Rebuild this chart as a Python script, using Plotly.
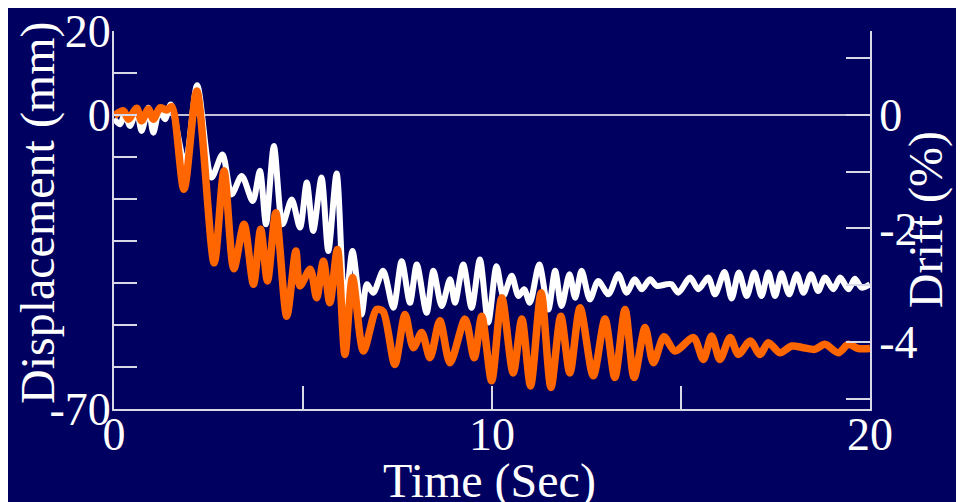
import plotly.graph_objects as go

# Time (s) and displacement (mm)
t_white = [0.0,0.16,0.29,0.42,0.6,0.73,0.91,1.04,1.2,1.35,
           1.5,1.88,2.2,2.58,2.87,3.11,3.38,3.67,3.86,4.02,
           4.23,4.46,4.70,4.92,5.10,5.27,5.49,5.67,5.89,6.11,
           6.31,6.55,6.69,6.86,7.12,7.39,7.61,7.83,8.01,8.27,
           8.45,8.67,8.89,9.02,9.24,9.46,9.68,9.90,10.12,10.30,
           10.52,10.70,10.85,11.0,11.25,11.49,11.67,11.84,12.05,12.2,12.37,
           12.59,12.81,13.08,13.34,13.56,13.78,13.96,14.18,14.36,14.62,
           14.75,14.93,15.24,15.46,15.72,15.9,16.15,16.34,16.53,16.74,
           16.94,17.13,17.31,17.49,17.66,17.86,18.06,18.24,18.44,18.63,
           18.81,19.03,19.21,19.43,19.60,19.78,20.0]
disp_white = [-0.9,-2.2,0.4,-2.6,1.0,-3.8,1.7,-4.2,1.0,-1.0,
              2.5,-11.7,7.1,-14.9,-9.4,-18.9,-14.5,-20.5,-13.3,-26,
              -7.4,-26,-20.1,-26.8,-16.1,-27.6,-14.9,-32.4,-13.9,-46.3,
              -32.4,-47.5,-40.3,-42.3,-37.1,-45.9,-34.8,-44.7,-35.6,-47.1,
              -37.1,-45.5,-39.1,-44.7,-35.6,-45.9,-34.4,-49.4,-36,-43.1,
              -38.3,-43.1,-41.5,-44.7,-35.6,-46.3,-37.1,-45.5,-37.9,-43.5,-37.1,
              -43.9,-39.5,-42.7,-37.9,-42.3,-39.1,-41.5,-39.1,-40.7,-40.3,
              -40.3,-42.3,-38.7,-41.5,-38.7,-42.7,-37.4,-43.7,-37.5,-43.1,
              -37.5,-43.1,-37.5,-43.1,-37.7,-42.7,-37.9,-42.3,-37.9,-41.9,
              -38.7,-41.5,-38.7,-41.5,-39,-41.1,-40.3]

t_orange = [0.0,0.25,0.38,0.6,0.73,0.91,1.04,1.22,1.39,1.53,
            1.85,2.19,2.65,2.91,3.17,3.44,3.69,3.88,4.06,4.28,
            4.57,4.81,4.92,5.19,5.36,5.54,5.71,5.91,6.11,6.31,
            6.6,6.95,7.12,7.43,7.70,7.92,8.14,8.36,8.62,8.89,
            9.29,9.53,9.73,9.99,10.26,10.56,10.79,11.02,11.30,11.56,
            11.82,12.06,12.33,12.68,12.99,13.25,13.52,13.76,14.05,14.27,
            14.55,14.84,15.33,15.59,15.81,16.03,16.30,16.52,16.83,17.09,
            17.31,17.62,17.93,18.24,18.54,18.81,19.16,19.43,19.69,20.0]
disp_orange = [-0.2,1.0,-1.0,1.6,-1.4,1.4,-1.0,1.7,1.2,2.0,
               -17.7,5.7,-35.2,-13.3,-36.6,-26,-40.3,-27.2,-39.5,-23.3,
               -47.9,-32.4,-40.7,-36.7,-43.5,-34.8,-44.7,-32,-57,-38.7,
               -56.2,-46.3,-46.8,-59.4,-47.5,-55.4,-51.8,-57.8,-49,-59,
               -48.6,-57.8,-47.9,-63.3,-43.5,-61.4,-48.6,-64.5,-42.3,-64.9,
               -47.9,-61.4,-45.9,-62.1,-48.6,-62.5,-46.3,-62.5,-50.6,-59,
               -52.8,-56.2,-53,-58.2,-52.6,-58.2,-53,-57,-53.8,-57,
               -54.2,-56.6,-55,-55.4,-55.8,-54.6,-56.6,-54.6,-55.6,-55.6]

x_tickvals = [0, 5, 10, 15, 20]
x_ticktext = ["0", "", "10", "", "20"]
y_tickvals = [20, 10, 0, -10, -20, -30, -40, -50, -60, -70]
y_ticktext = ["20", "", "0", "", "", "", "", "", "", "-70"]
drift_tickvals = [1, 0, -1, -2, -3, -4, -5]
drift_ticktext = ["", "0", "", "-2", "", "-4", ""]
mm_per_percent = 13.5
y_range = [-70, 20]

BG = "#000060"
AX = "#D8D8E8"
FONT = "Liberation Serif, Times New Roman, serif"

fig = go.Figure()
fig.add_trace(go.Scatter(x=t_white, y=disp_white, mode="lines",
                         line=dict(color="#FFFFFF", width=6, shape="spline", smoothing=0.8),
                         showlegend=False))
fig.add_trace(go.Scatter(x=t_orange, y=disp_orange, mode="lines",
                         line=dict(color="#FF6600", width=7.5, shape="spline", smoothing=0.8),
                         showlegend=False))
# drift axis carrier (same data expressed in %), invisible
fig.add_trace(go.Scatter(x=t_orange, y=[v / mm_per_percent for v in disp_orange],
                         yaxis="y2", mode="lines", line=dict(width=0),
                         opacity=0, hoverinfo="skip", showlegend=False))

fig.update_layout(
    width=956, height=494,
    paper_bgcolor=BG, plot_bgcolor=BG,
    margin=dict(l=106, r=94, t=23, b=93),
    font=dict(family=FONT, color="white", size=46),
    xaxis=dict(range=[0, 20], tickvals=x_tickvals, ticktext=x_ticktext,
               ticks="inside", ticklen=23, tickwidth=1.5, tickcolor=AX,
               showline=True, linecolor=AX, linewidth=2, showgrid=False, zeroline=False,
               tickfont=dict(size=46), ticklabelstandoff=-16, ticklabeloverflow="allow",
               automargin=False),
    yaxis=dict(range=y_range, tickvals=y_tickvals, ticktext=y_ticktext,
               ticks="inside", ticklen=23, tickwidth=1.5, tickcolor=AX,
               showline=True, linecolor=AX, linewidth=2, showgrid=False,
               zeroline=True, zerolinecolor="#C0C0D8", zerolinewidth=2,
               tickfont=dict(size=46), ticklabelstandoff=-8, ticklabeloverflow="allow",
               automargin=False),
    yaxis2=dict(range=[y_range[0] / mm_per_percent, y_range[1] / mm_per_percent],
                overlaying="y", side="right",
                tickvals=drift_tickvals, ticktext=drift_ticktext,
                ticks="inside", ticklen=24, tickwidth=1.5, tickcolor=AX,
                showline=True, linecolor=AX, linewidth=2, showgrid=False, zeroline=False,
                tickfont=dict(size=46), ticklabelstandoff=-2, ticklabeloverflow="allow",
                automargin=False),
    annotations=[
        dict(text="Displacement (mm)", xref="paper", yref="paper",
             x=-0.1005, y=0.5185, xanchor="center", yanchor="middle",
             textangle=-90, showarrow=False, font=dict(size=48)),
        dict(text="Time (Sec)", xref="paper", yref="paper",
             x=0.497, y=-0.19, xanchor="center", yanchor="middle",
             showarrow=False, font=dict(size=48)),
        dict(text="Drift (%)", xref="paper", yref="paper",
             x=1.0744, y=0.5, xanchor="center", yanchor="middle",
             textangle=-90, showarrow=False, font=dict(size=48)),
    ],
)

fig.write_html("out.html")
